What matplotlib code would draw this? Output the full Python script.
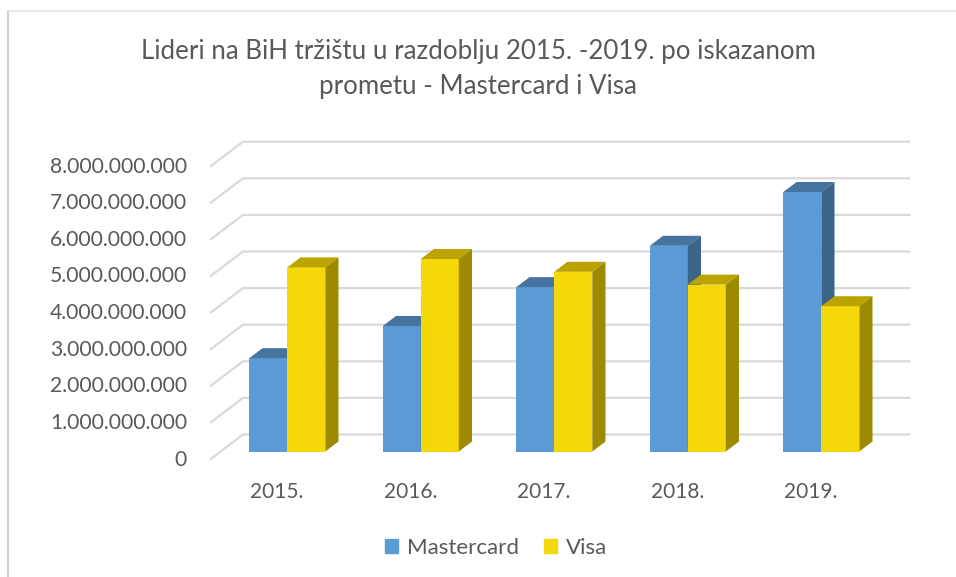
import matplotlib.pyplot as plt
from matplotlib.patches import Polygon, Patch
from matplotlib.lines import Line2D

plt.rcParams['font.family'] = ['Lato', 'DejaVu Sans']

TITLE = 'Lideri na BiH tržištu u razdoblju 2015. -2019. po iskazanom\nprometu - Mastercard i Visa'
years = ['2015.', '2016.', '2017.', '2018.', '2019.']
# values in billions
mastercard = [2.55, 3.43, 4.49, 5.62, 7.09]
visa = [5.03, 5.26, 4.91, 4.56, 3.97]
ticks = [0, 1, 2, 3, 4, 5, 6, 7, 8]

TEXT = '#595959'
GRID = '#d9d9d9'
BLUE = ('#5b9bd5', '#4674a0', '#3a6589')
YELLOW = ('#f5d80a', '#bba300', '#9e8a00')

# pseudo 3d layout (px per category / per billion)
PX_CAT = 133.5
PX_UNIT = 36.6
W = 38 / PX_CAT          # bar width
DX = 33 / PX_CAT         # full floor depth, x
DY = 25 / PX_UNIT        # full floor depth, y
F = 0.32                 # depth of the bar front plane
BD = 0.4                 # bar depth as part of floor depth


def fmt(v):
    return '{:,}'.format(int(v * 1e9)).replace(',', '.')


def draw_bar(ax, x0, h, colors):
    front, top, side = colors
    bdx, bdy = BD * DX, BD * DY
    ax.bar(x0, h, W, align='edge', color=front, linewidth=0)
    ax.add_patch(Polygon([(x0, h), (x0 + W, h), (x0 + W + bdx, h + bdy), (x0 + bdx, h + bdy)],
                         closed=True, color=top, linewidth=0))
    ax.add_patch(Polygon([(x0 + W, 0), (x0 + W + bdx, bdy), (x0 + W + bdx, h + bdy), (x0 + W, h)],
                         closed=True, color=side, linewidth=0))


fig = plt.figure(figsize=(9.56, 5.77), dpi=100)
ax = fig.add_axes([0, 0, 1, 1])
ax.set_xlim(-287.3 / PX_CAT, (956 - 287.3) / PX_CAT)
ax.set_ylim(-125.5 / PX_UNIT, (577 - 125.5) / PX_UNIT)
ax.axis('off')

# walls
x_left, x_right = -0.5, len(years) - 0.5
for v in ticks:
    xs = [x_left - F * DX, x_left + (1 - F) * DX, x_right + (1 - F) * DX]
    ys = [v - F * DY, v + (1 - F) * DY, v + (1 - F) * DY]
    ax.plot(xs, ys, color=GRID, lw=1.6, zorder=1, solid_capstyle='butt')
    ax.annotate(fmt(v) if v else '0', (x_left - F * DX, v - F * DY), xytext=(-23, 0),
                textcoords='offset pixels', ha='right', va='center', fontsize=15.2, color=TEXT)

for i in range(len(years)):
    draw_bar(ax, i - W, mastercard[i], BLUE)
    draw_bar(ax, i, visa[i], YELLOW)
    ax.annotate(years[i], (i - F * DX, -F * DY), xytext=(0, -32), textcoords='offset pixels',
                ha='center', va='center', fontsize=15, color=TEXT)

fig.text(0.5, 1 - 69 / 577, TITLE, ha='center', va='center', fontsize=18.6,
         linespacing=1.52, color=TEXT)

handles = [Patch(color=BLUE[0], label='Mastercard'), Patch(color=YELLOW[0], label='Visa')]
fig.legend(handles=handles, loc='center', bbox_to_anchor=(0.519, 1 - 548 / 577), ncol=2,
           frameon=False, fontsize=16, handlelength=0.6, handleheight=0.6,
           handletextpad=0.4, columnspacing=1.1, labelcolor=TEXT)

# chart border
fig.add_artist(Line2D([8 / 956, 8 / 956], [0, 1 - 10.5 / 577], color='#d0d0d0', lw=1.5))
fig.add_artist(Line2D([8 / 956, 1], [1 - 10.5 / 577, 1 - 10.5 / 577], color='#e3e3e3', lw=1.2))

fig.savefig('out.png', dpi=100)
